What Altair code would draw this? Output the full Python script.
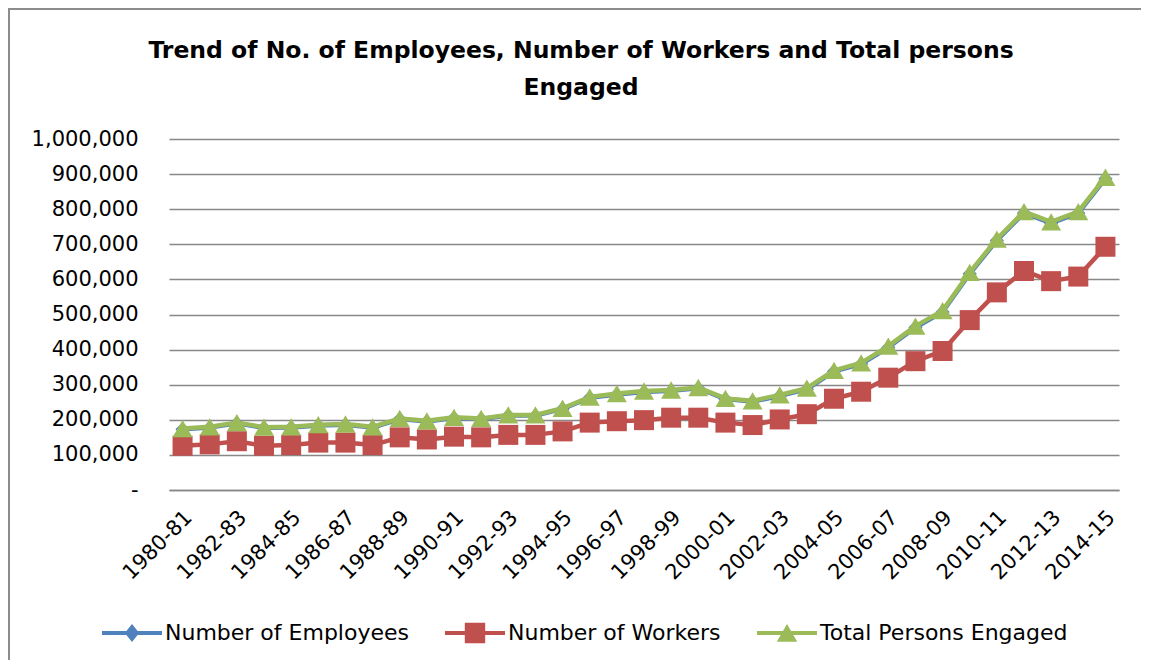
import altair as alt
import pandas as pd

years = [
    "1980-81", "1981-82", "1982-83", "1983-84", "1984-85", "1985-86", "1986-87",
    "1987-88", "1988-89", "1989-90", "1990-91", "1991-92", "1992-93", "1993-94",
    "1994-95", "1995-96", "1996-97", "1997-98", "1998-99", "1999-00", "2000-01",
    "2001-02", "2002-03", "2003-04", "2004-05", "2005-06", "2006-07", "2007-08",
    "2008-09", "2009-10", "2010-11", "2011-12", "2012-13", "2013-14", "2014-15",
]

employees = [
    173000, 178000, 190000, 177000, 178000, 184000, 186000, 178000, 202000, 195000,
    205000, 202000, 212000, 212000, 231000, 263000, 272000, 279000, 283000, 290000,
    259000, 252000, 268000, 287000, 338000, 359000, 406000, 463000, 507000, 616000,
    711000, 789000, 760000, 789000, 887000,
]
workers = [
    126000, 130000, 139000, 126000, 128000, 135000, 135000, 128000, 150000, 144000,
    152000, 150000, 157000, 157000, 167000, 192000, 196000, 199000, 206000, 206000,
    192000, 185000, 201000, 216000, 260000, 280000, 320000, 367000, 396000, 484000,
    563000, 624000, 595000, 608000, 693000,
]
total = [
    175000, 180000, 192000, 179000, 180000, 186000, 188000, 180000, 204000, 197000,
    207000, 204000, 214000, 214000, 233000, 265000, 275000, 282000, 285000, 292000,
    261000, 254000, 271000, 290000, 341000, 362000, 410000, 467000, 511000, 620000,
    715000, 793000, 764000, 793000, 891000,
]

series_names = ["Number of Employees", "Number of Workers", "Total Persons Engaged"]
series_colors = ["#4F81BD", "#C0504D", "#9BBB59"]
marker_shapes = ["diamond", "square", "triangle-up"]
marker_sizes = [200, 400, 400]
y_ticks = [0, 100000, 200000, 300000, 400000, 500000, 600000, 700000, 800000, 900000, 1000000]
title_lines = ["Trend of No. of Employees, Number of Workers and Total persons", "Engaged"]

rows = []
for name, vals in zip(series_names, [employees, workers, total]):
    for yr, v in zip(years, vals):
        rows.append({"Year": yr, "Series": name, "Value": v})
df = pd.DataFrame(rows)

FONT = "DejaVu Sans"
W, H = 950, 351

# legend symbols: line segment + marker (unit box -1..1)
line_part = "M-1,-0.07H1V0.07H-1Z"
legend_paths = [
    line_part + " M-0.24,0L0,-0.3L0.24,0L0,0.3Z",
    line_part + " M-0.34,-0.34H0.34V0.34H-0.34Z",
    line_part + " M0,-0.3L0.34,0.29L-0.34,0.29Z",
]

x_enc = alt.X(
    "Year:N",
    sort=years,
    scale=alt.Scale(type="point", padding=0.5),
    axis=alt.Axis(
        values=years[::2], labelAngle=-45, labelAlign="right", labelBaseline="middle",
        labelPadding=24, labelOffset=6, labelFont=FONT, labelFontSize=21, labelColor="#000000",
        grid=False, ticks=False, domain=True, domainColor="#888888", domainWidth=1.3,
        title=None, labelOverlap=False,
    ),
)
y_enc = alt.Y(
    "Value:Q",
    scale=alt.Scale(domain=[0, 1000000], nice=False, zero=True),
    axis=alt.Axis(
        values=y_ticks,
        labelExpr="datum.value == 0 ? '-\u00a0\u00a0' : format(datum.value, ',')",
        grid=True, gridColor="#888888", gridWidth=1.3, domain=False, ticks=False,
        labelPadding=31, labelFont=FONT, labelFontSize=21, labelColor="#000000",
        title=None,
    ),
)

border = alt.Chart(pd.DataFrame({"k": [0]})).mark_rect(
    filled=False, stroke="#8c8c8c", strokeWidth=2, clip=False
).encode(
    x=alt.value(-160), x2=alt.value(1200), y=alt.value(-130), y2=alt.value(900)
)

layers = [border]
for name, col, shp, sz in zip(series_names, series_colors, marker_shapes, marker_sizes):
    base = alt.Chart(df).transform_filter(alt.datum.Series == name)
    layers.append(base.mark_line(color=col, strokeWidth=4.5, strokeJoin="round").encode(x=x_enc, y=y_enc))
    layers.append(base.mark_point(shape=shp, filled=True, size=sz, color=col, opacity=1).encode(x=x_enc, y=y_enc))

leg = alt.Legend(
    orient="none", legendX=-67, legendY=464, direction="horizontal", title=None,
    symbolSize=3600, symbolStrokeWidth=0, symbolOpacity=1, labelFont=FONT, labelFontSize=22,
    labelColor="#000000", labelOffset=3, columnPadding=36, padding=0, labelLimit=400,
)
legend_layer = alt.Chart(df).transform_filter("false").mark_point(filled=True, opacity=1).encode(
    x=x_enc, y=y_enc,
    color=alt.Color("Series:N", scale=alt.Scale(domain=series_names, range=series_colors), legend=leg),
    shape=alt.Shape("Series:N", scale=alt.Scale(domain=series_names, range=legend_paths), legend=leg),
)
layers.append(legend_layer)

chart = alt.layer(*layers).properties(
    width=W, height=H,
    padding={"left": 161, "top": 131, "right": 22, "bottom": 170},
    autosize=alt.AutoSizeParams(type="none"),
    title=alt.TitleParams(
        text=title_lines, font=FONT, fontSize=23.5, fontWeight="bold", color="#000000",
        anchor="middle", frame="group", dx=-63, offset=-115, lineHeight=37, baseline="bottom",
    ),
).configure_view(stroke=None)

chart.save("out.html", embed_options={"renderer": "svg", "actions": False})
